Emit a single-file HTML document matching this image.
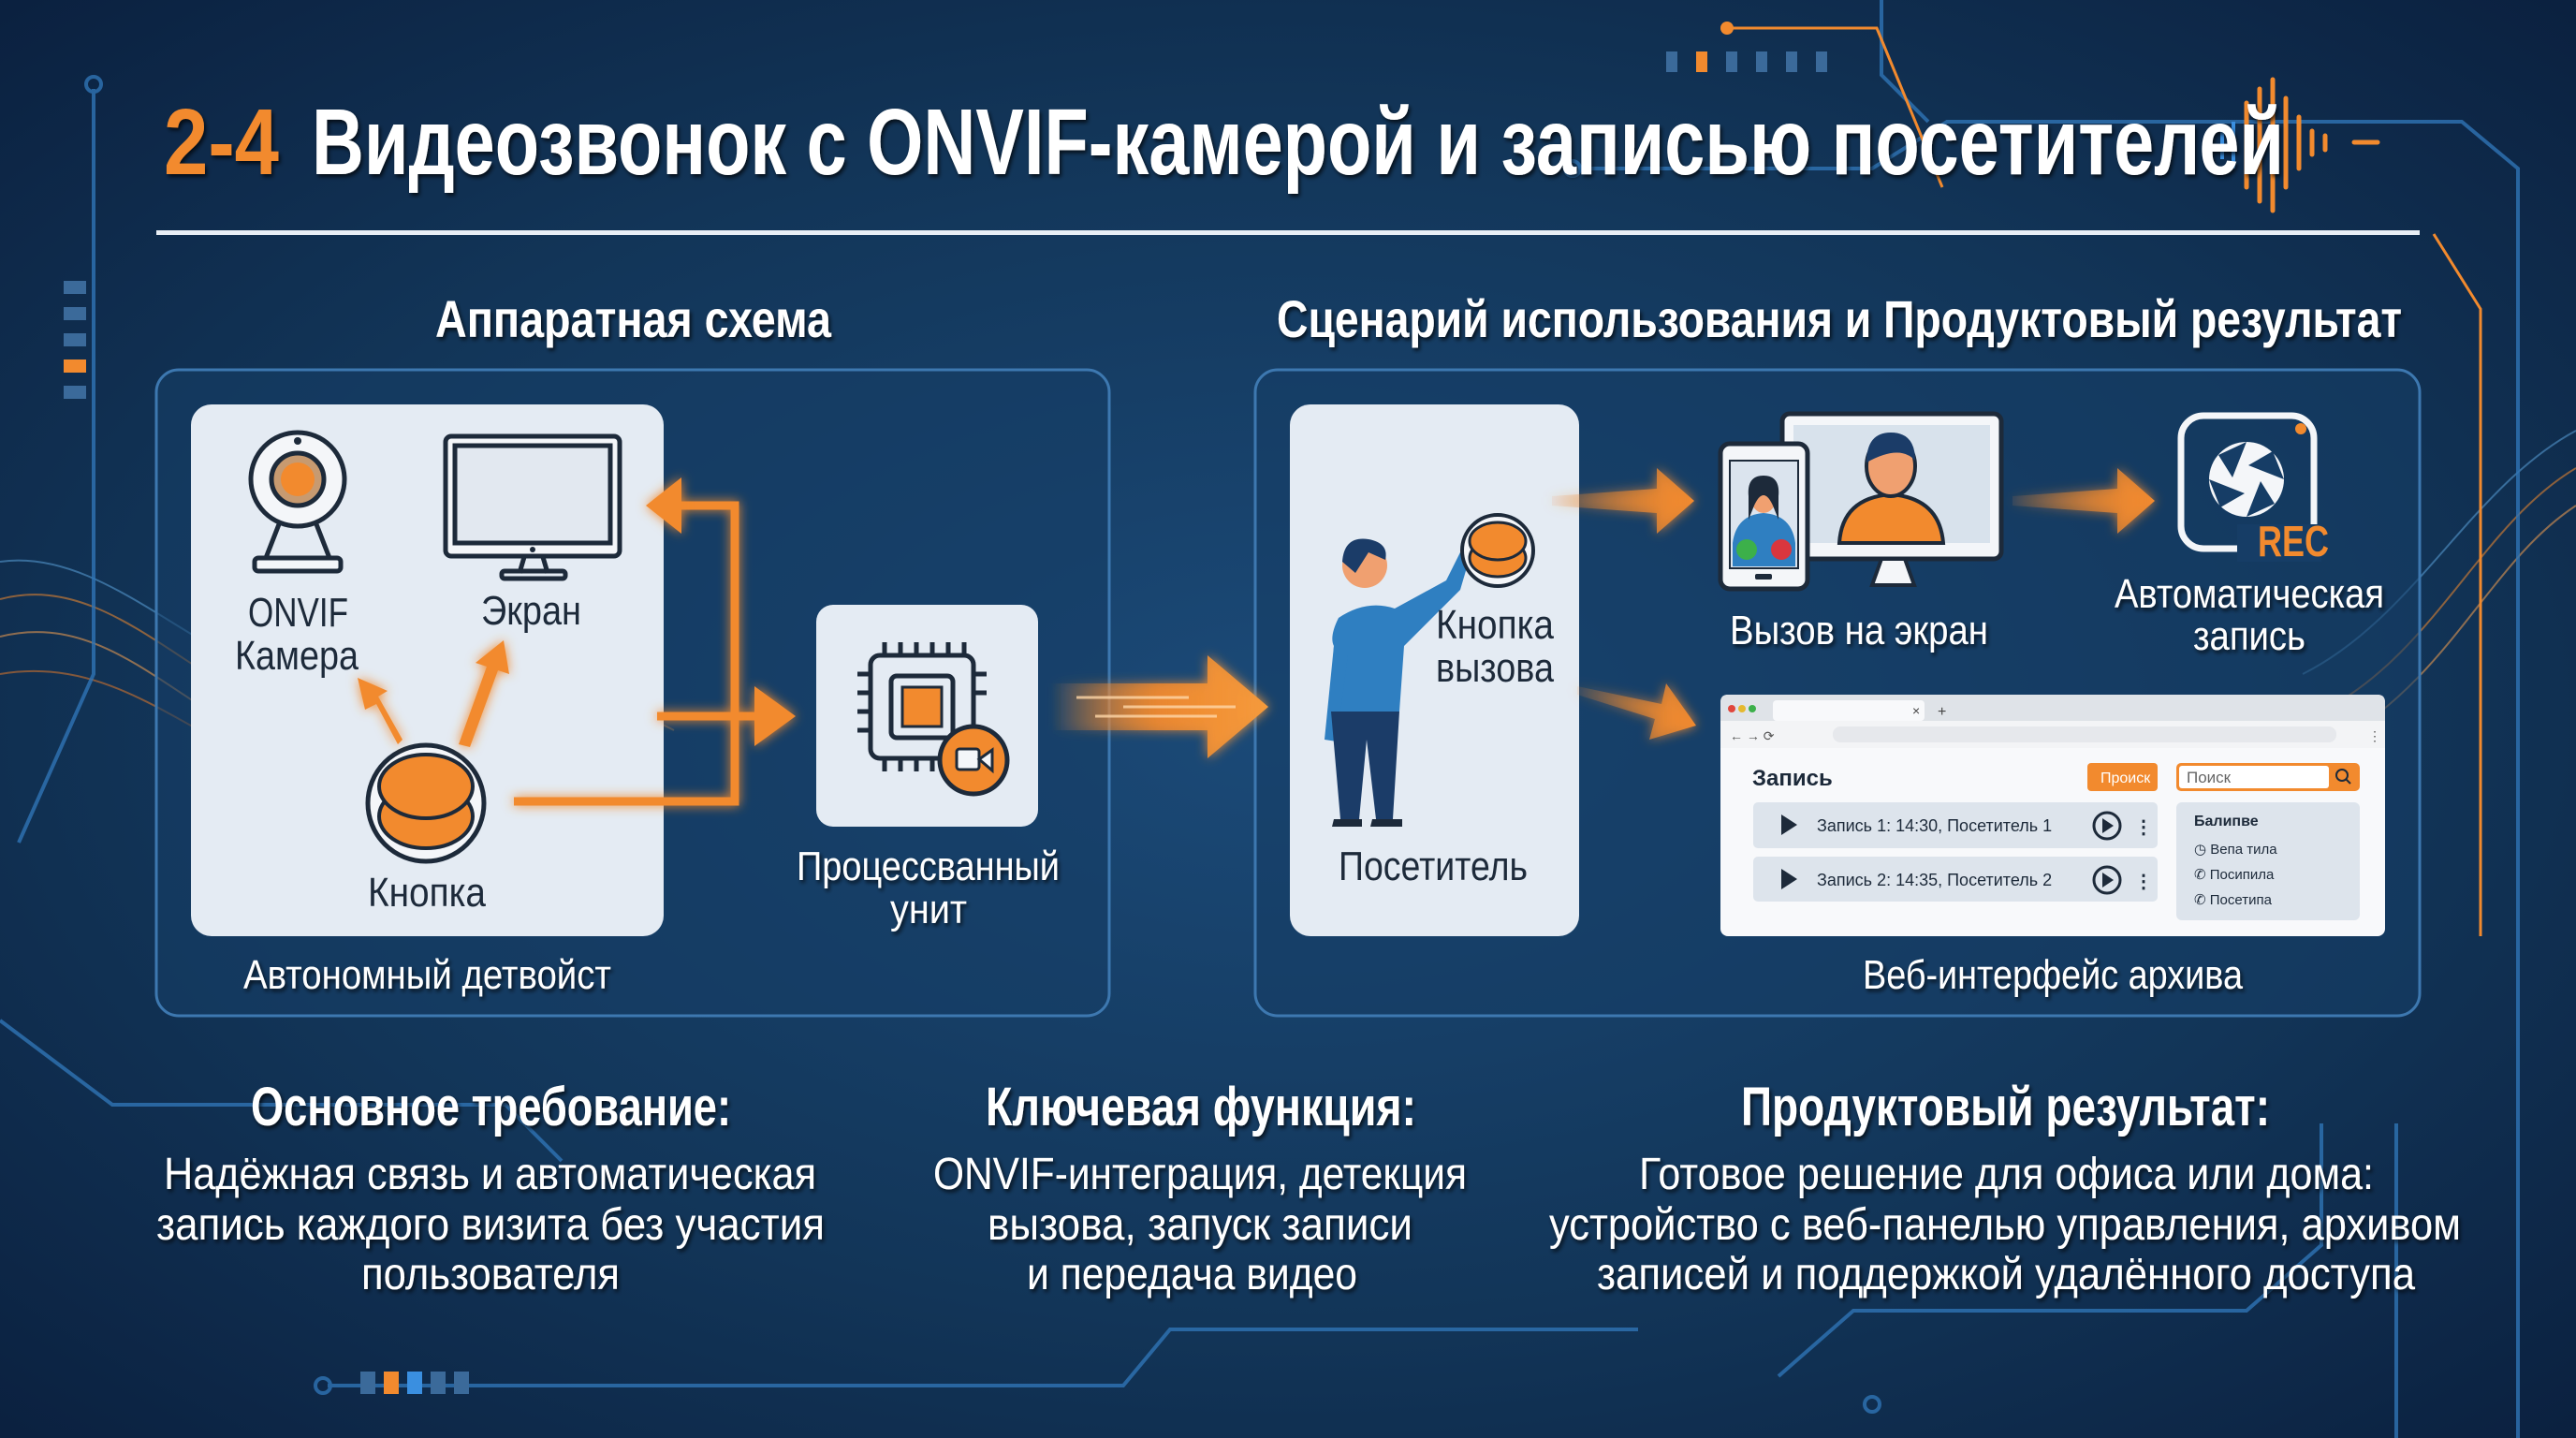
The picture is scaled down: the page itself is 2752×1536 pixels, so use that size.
<!DOCTYPE html>
<html><head><meta charset="utf-8">
<style>
html,body{margin:0;padding:0;background:#0e2744;}
svg{display:block}
text{font-family:"Liberation Sans Narrow","Liberation Sans",sans-serif;}
</style></head>
<body>
<svg width="2752" height="1536" viewBox="0 0 2752 1536" xmlns="http://www.w3.org/2000/svg">
<defs>
<radialGradient id="bg" cx="50%" cy="50%" r="70%">
<stop offset="0" stop-color="#1b4a78"/><stop offset="0.6" stop-color="#123558"/><stop offset="1" stop-color="#0b2140"/>
</radialGradient>
<linearGradient id="bigarrow" x1="0" x2="1"><stop offset="0" stop-color="#f28a2e" stop-opacity="0"/><stop offset="0.5" stop-color="#f28a2e" stop-opacity="0.8"/><stop offset="1" stop-color="#f59a3c"/></linearGradient>
<linearGradient id="fade" x1="0" x2="1"><stop offset="0" stop-color="#f28a2e" stop-opacity="0.1"/><stop offset="1" stop-color="#f28a2e"/></linearGradient>
<filter id="glow" x="-50%" y="-50%" width="200%" height="200%"><feGaussianBlur stdDeviation="6" result="b"/><feMerge><feMergeNode in="b"/><feMergeNode in="SourceGraphic"/></feMerge></filter>
<filter id="ts"><feDropShadow dx="2" dy="3" stdDeviation="2" flood-color="#000" flood-opacity="0.7"/></filter>
</defs>
<rect width="2752" height="1536" fill="url(#bg)"/>

<g fill="none" stroke-width="2" opacity="0.55">
<path d="M0 640 C150 600 250 820 420 760 S650 700 700 760" stroke="#f28a2e"/>
<path d="M0 680 C160 640 240 860 420 790 S640 740 720 780" stroke="#f5a050"/>
<path d="M0 720 C170 690 260 880 430 820" stroke="#e0782a"/>
<path d="M0 600 C140 580 260 780 420 730" stroke="#5aa0d8"/>
<path d="M2752 500 C2650 560 2600 700 2480 760 S2300 820 2250 860" stroke="#f28a2e"/>
<path d="M2752 540 C2660 600 2620 720 2500 790" stroke="#f5a050"/>
<path d="M2752 460 C2640 520 2580 660 2460 720" stroke="#5aa0d8"/>
</g>
<g fill="none" stroke="#2f74b5" stroke-width="4" opacity="0.8">
<path d="M100 95 V720 L20 900"/>
<circle cx="100" cy="90" r="8"/>
<path d="M1690 180 H2000 L2080 130 H2630 L2690 180 V1536"/>
<circle cx="1680" cy="180" r="8"/>
<path d="M2010 0 V80 L2060 130"/>
<path d="M0 1090 L120 1180 H540 L600 1240"/>
<path d="M350 1480 H1200 L1250 1420 H1750"/>
<circle cx="345" cy="1480" r="8"/>
<path d="M1900 1470 L1980 1400 H2400 L2480 1330 V1200"/>
<circle cx="2000" cy="1500" r="8"/>
<path d="M2560 1200 V1536"/>
</g>
<g fill="none" stroke="#f28a2e" stroke-width="3">
<path d="M1845 30 H2005 L2075 200"/>
<path d="M2600 250 L2650 330 V1000"/>
</g>
<circle cx="1845" cy="30" r="7" fill="#f28a2e"/>
<g fill="#3b6a9a"><rect x="1780" y="55" width="12" height="22"/><rect x="1812" y="55" width="12" height="22" fill="#f28a2e"/><rect x="1844" y="55" width="12" height="22"/><rect x="1876" y="55" width="12" height="22"/><rect x="1908" y="55" width="12" height="22"/><rect x="1940" y="55" width="12" height="22"/></g>
<g fill="#3b6a9a"><rect x="68" y="300" width="24" height="14"/><rect x="68" y="328" width="24" height="14"/><rect x="68" y="356" width="24" height="14"/><rect x="68" y="384" width="24" height="14" fill="#f28a2e"/><rect x="68" y="412" width="24" height="14"/></g>
<g fill="#3b6a9a"><rect x="385" y="1465" width="16" height="24"/><rect x="410" y="1465" width="16" height="24" fill="#f28a2e"/><rect x="435" y="1465" width="16" height="24" fill="#3a8fe0"/><rect x="460" y="1465" width="16" height="24"/><rect x="485" y="1465" width="16" height="24"/></g>
<g stroke="#f28a2e" stroke-width="5" stroke-linecap="round">
<line x1="2400" y1="110" x2="2400" y2="200"/><line x1="2414" y1="95" x2="2414" y2="215"/><line x1="2428" y1="85" x2="2428" y2="225"/><line x1="2442" y1="105" x2="2442" y2="200"/><line x1="2456" y1="125" x2="2456" y2="180"/><line x1="2470" y1="140" x2="2470" y2="165"/><line x1="2484" y1="145" x2="2484" y2="160"/><line x1="2515" y1="152" x2="2540" y2="152"/>
</g>
<g stroke="#3a8fe0" stroke-width="4"><line x1="2386" y1="130" x2="2386" y2="180"/><line x1="2374" y1="140" x2="2374" y2="170"/></g>

<g filter="url(#ts)">
<text x="175" y="186" font-size="100" font-weight="bold" fill="#f28a2e" textLength="123" lengthAdjust="spacingAndGlyphs">2-4</text>
<text x="333" y="186" font-size="100" font-weight="bold" fill="#ffffff" textLength="2107" lengthAdjust="spacingAndGlyphs">Видеозвонок с ONVIF-камерой и записью посетителей</text>
</g>
<rect x="167" y="246" width="2418" height="5" fill="#e8eef5"/>

<g filter="url(#ts)" fill="#fff" font-weight="bold" font-size="56">
<text x="465" y="360" textLength="423" lengthAdjust="spacingAndGlyphs">Аппаратная схема</text>
<text x="1364" y="360" textLength="1202" lengthAdjust="spacingAndGlyphs">Сценарий использования и Продуктовый результат</text>
</g>

<rect x="167" y="395" width="1018" height="690" rx="24" fill="#163d66" fill-opacity="0.6" stroke="#3d78b0" stroke-width="3"/>
<rect x="1341" y="395" width="1244" height="690" rx="24" fill="#163d66" fill-opacity="0.6" stroke="#3d78b0" stroke-width="3"/>

<rect x="204" y="432" width="505" height="568" rx="22" fill="#e4ebf3"/>
<!-- camera -->
<g fill="none" stroke="#1d2a3a" stroke-width="5">
<circle cx="318" cy="512" r="50" fill="#f4f6f9"/>
<circle cx="318" cy="512" r="28" fill="#c79a70"/>
<path d="M298 560 L284 596 M338 560 L352 596"/>
<rect x="272" y="596" width="92" height="14" rx="4" fill="#f4f6f9"/>
</g>
<circle cx="318" cy="512" r="18" fill="#f28a2e"/>
<circle cx="318" cy="471" r="4" fill="#1d2a3a"/>
<g fill="none" stroke="#1d2a3a" stroke-width="5">
<rect x="476" y="466" width="186" height="128" rx="6" fill="#f4f6f9"/>
<rect x="486" y="476" width="166" height="104" fill="#e2e8f0"/>
<path d="M560 595 L555 612 M580 595 L585 612"/>
<rect x="536" y="610" width="68" height="8" rx="3"/>
</g>
<circle cx="569" cy="587" r="3" fill="#1d2a3a"/>
<circle cx="455" cy="858" r="62" fill="#f4f6f9" stroke="#1d2a3a" stroke-width="5"/>
<ellipse cx="455" cy="872" rx="50" ry="34" fill="#f28a2e" stroke="#1d2a3a" stroke-width="4"/>
<ellipse cx="455" cy="840" rx="50" ry="34" fill="#f28a2e" stroke="#1d2a3a" stroke-width="4"/>
<g fill="#1d2a3a" font-size="44">
<text x="265" y="669" textLength="107" lengthAdjust="spacingAndGlyphs">ONVIF</text>
<text x="251" y="715" textLength="132" lengthAdjust="spacingAndGlyphs">Камера</text>
<text x="514" y="667" textLength="107" lengthAdjust="spacingAndGlyphs">Экран</text>
<text x="393" y="968" textLength="126" lengthAdjust="spacingAndGlyphs">Кнопка</text>
</g>
<g fill="#f28a2e" filter="url(#glow)">
<path d="M425 795 L402 752 L390 758 L382 724 L414 738 L404 744 L430 790Z"/>
<path d="M490 795 L520 712 L508 708 L538 684 L544 720 L532 716 L502 798Z"/>
</g>
<g fill="none" stroke="#f28a2e" stroke-width="9" filter="url(#glow)">
<path d="M549 856 H785 V540 H720"/>
<path d="M702 765 H810"/>
</g>
<path d="M690 540 L728 510 L728 570Z" fill="#f28a2e" filter="url(#glow)"/>
<path d="M850 765 L806 733 L806 797Z" fill="#f28a2e" filter="url(#glow)"/>

<rect x="872" y="646" width="237" height="237" rx="18" fill="#e4ebf3"/>
<g fill="none" stroke="#1d2a3a" stroke-width="5">
<rect x="930" y="700" width="110" height="110" rx="10"/>
<rect x="952" y="722" width="66" height="66" rx="6"/>
<path d="M945 700 v-14 M962 700 v-14 M979 700 v-14 M996 700 v-14 M1013 700 v-14 M1030 700 v-14"/>
<path d="M945 810 v14 M962 810 v14 M979 810 v14 M996 810 v14"/>
<path d="M930 720 h-14 M930 740 h-14 M930 760 h-14 M930 780 h-14 M1040 720 h14 M1040 740 h14"/>
</g>
<rect x="964" y="734" width="42" height="42" fill="#f28a2e" stroke="#1d2a3a" stroke-width="3"/>
<circle cx="1040" cy="812" r="36" fill="#f28a2e" stroke="#1d2a3a" stroke-width="5"/>
<rect x="1022" y="800" width="24" height="22" rx="3" fill="#f4f6f9" stroke="#1d2a3a" stroke-width="3"/>
<path d="M1046 811 L1060 801 V823Z" fill="#f4f6f9" stroke="#1d2a3a" stroke-width="3"/>
<g filter="url(#ts)" fill="#fff" font-size="44">
<text x="851" y="940" textLength="281" lengthAdjust="spacingAndGlyphs">Процессванный</text>
<text x="951" y="986" textLength="82" lengthAdjust="spacingAndGlyphs">унит</text>
<text x="260" y="1056" textLength="393" lengthAdjust="spacingAndGlyphs">Автономный детвойст</text>
</g>

<g filter="url(#glow)">
<path d="M1123 730 H1290 V700 L1355 755 L1290 810 V780 H1123Z" fill="url(#bigarrow)"/>
</g>
<g stroke="#ffd7a8" stroke-width="3" opacity="0.8"><line x1="1150" y1="745" x2="1270" y2="745"/><line x1="1170" y1="765" x2="1300" y2="765"/><line x1="1200" y1="755" x2="1320" y2="755"/></g>

<rect x="1378" y="432" width="309" height="568" rx="22" fill="#e4ebf3"/>
<g>
<path d="M1430 660 Q1460 640 1490 650 L1545 620 L1560 590 L1570 596 L1560 630 L1500 690 L1495 760 L1420 760 L1425 690 Q1420 680 1430 660Z" fill="#2f7fc1"/>
<path d="M1425 690 L1415 790 L1428 792 L1440 700Z" fill="#2f7fc1"/>
<path d="M1422 760 H1495 L1488 875 H1470 L1460 790 L1452 875 H1432Z" fill="#1b3c68"/>
<path d="M1425 875 h30 v8 h-32z M1466 875 h32 v8 h-34z" fill="#1d2a3a"/>
<circle cx="1458" cy="604" r="24" fill="#f0a070"/>
<path d="M1434 600 Q1436 572 1462 576 Q1484 580 1480 598 L1462 590 L1448 612Z" fill="#1b3c68"/>
</g>
<circle cx="1600" cy="588" r="38" fill="#f4f6f9" stroke="#1d2a3a" stroke-width="4"/>
<ellipse cx="1600" cy="596" rx="30" ry="20" fill="#f28a2e" stroke="#1d2a3a" stroke-width="3"/>
<ellipse cx="1600" cy="578" rx="30" ry="20" fill="#f28a2e" stroke="#1d2a3a" stroke-width="3"/>
<g fill="#1d2a3a" font-size="44">
<text x="1534" y="682" textLength="126" lengthAdjust="spacingAndGlyphs">Кнопка</text>
<text x="1534" y="728" textLength="126" lengthAdjust="spacingAndGlyphs">вызова</text>
<text x="1430" y="940" textLength="202" lengthAdjust="spacingAndGlyphs">Посетитель</text>
</g>

<g filter="url(#glow)">
<path d="M1658 530 L1770 522 V500 L1810 535 L1770 570 V548 L1658 540Z" fill="url(#fade)"/>
<path d="M2150 530 L2262 522 V500 L2302 535 L2262 570 V548 L2150 540Z" fill="url(#fade)"/>
<path d="M1685 733 L1775 752 L1780 730 L1812 775 L1762 790 L1768 768 L1685 742Z" fill="url(#fade)"/>
</g>

<g>
<rect x="1904" y="442" width="234" height="155" rx="8" fill="#f4f6f9" stroke="#1d2a3a" stroke-width="5"/>
<rect x="1916" y="454" width="210" height="126" fill="#d8e2ec"/>
<path d="M2010 597 L2000 625 H2045 L2035 597Z" fill="#f4f6f9" stroke="#1d2a3a" stroke-width="4"/>
<path d="M1965 580 Q1968 532 2020 528 Q2072 532 2076 580Z" fill="#f28a2e" stroke="#1d2a3a" stroke-width="4"/>
<ellipse cx="2020" cy="498" rx="26" ry="32" fill="#f0a070" stroke="#1d2a3a" stroke-width="4"/>
<path d="M1994 494 Q1994 462 2020 462 Q2046 462 2046 492 Q2030 474 1994 494Z" fill="#1b3c68"/>
<rect x="1838" y="474" width="93" height="155" rx="10" fill="#f4f6f9" stroke="#1d2a3a" stroke-width="5"/>
<rect x="1848" y="492" width="73" height="115" fill="#dbe4ee" stroke="#1d2a3a" stroke-width="2"/>
<path d="M1851 580 Q1855 550 1884 548 Q1914 550 1918 580 V605 H1851Z" fill="#2f7fc1"/>
<ellipse cx="1884" cy="530" rx="14" ry="18" fill="#f0a070"/>
<path d="M1868 530 Q1866 508 1884 508 Q1902 508 1900 530 L1900 555 L1894 540 Q1884 518 1874 540 L1868 555Z" fill="#1d2a3a"/>
<circle cx="1866" cy="587" r="11" fill="#3cb04a"/><circle cx="1903" cy="587" r="11" fill="#d9363e"/>
<rect x="1875" y="613" width="18" height="6" rx="2" fill="#1d2a3a"/>
</g>
<g>
<rect x="2330" y="444" width="142" height="142" rx="24" fill="none" stroke="#f4f6f9" stroke-width="7"/>
<rect x="2390" y="560" width="90" height="40" fill="#163d66"/>
<circle cx="2400" cy="512" r="40" fill="#f4f6f9"/>
<g fill="#163d66"><path d="M2400 472 L2385 510 L2370 486Z"/><path d="M2440 512 L2402 497 L2428 482Z"/><path d="M2400 552 L2415 514 L2430 538Z"/><path d="M2360 512 L2398 527 L2372 542Z"/></g>
<circle cx="2458" cy="458" r="6" fill="#f28a2e"/>
<text x="2412" y="594" font-size="46" font-weight="bold" fill="#f28a2e" textLength="76" lengthAdjust="spacingAndGlyphs">REC</text>
</g>
<g filter="url(#ts)" fill="#fff" font-size="44">
<text x="1848" y="688" textLength="276" lengthAdjust="spacingAndGlyphs">Вызов на экран</text>
<text x="2259" y="649" textLength="288" lengthAdjust="spacingAndGlyphs">Автоматическая</text>
<text x="2343" y="694" textLength="120" lengthAdjust="spacingAndGlyphs">запись</text>
<text x="1990" y="1056" textLength="406" lengthAdjust="spacingAndGlyphs">Веб-интерфейс архива</text>
</g>

<g>
<rect x="1838" y="742" width="710" height="258" rx="8" fill="#f8f9fb"/>
<path d="M1838 750 Q1838 742 1846 742 H2540 Q2548 742 2548 750 V799 H1838Z" fill="#dfe3e8"/>
<rect x="1894" y="748" width="162" height="22" rx="4" fill="#f8f9fb"/>
<rect x="1838" y="770" width="710" height="29" fill="#f3f4f6"/>
<rect x="1958" y="776" width="538" height="17" rx="8" fill="#e6e8ec"/>
<circle cx="1850" cy="757" r="4" fill="#e0463c"/><circle cx="1861" cy="757" r="4" fill="#e5b92f"/><circle cx="1872" cy="757" r="4" fill="#3cb04a"/>
<text x="2043" y="764" font-size="14" fill="#444">×</text><text x="2070" y="765" font-size="16" fill="#444">+</text>
<text x="1848" y="791" font-size="14" fill="#555">← → ⟳</text>
<text x="2530" y="791" font-size="14" fill="#555">⋮</text>
<text x="1872" y="839" font-size="24" font-weight="bold" fill="#1d2a3a">Запись</text>
<rect x="2230" y="815" width="75" height="30" rx="4" fill="#f28a2e"/>
<text x="2244" y="836" font-size="16" fill="#fff">Происк</text>
<rect x="2325" y="815" width="196" height="30" rx="5" fill="#f28a2e"/>
<rect x="2328" y="818" width="160" height="24" rx="3" fill="#fff"/>
<text x="2336" y="836" font-size="17" fill="#666">Поиск</text>
<circle cx="2502" cy="828" r="6" fill="none" stroke="#1d2a3a" stroke-width="2"/><line x1="2506" y1="832" x2="2511" y2="837" stroke="#1d2a3a" stroke-width="2"/>
<rect x="1873" y="857" width="432" height="49" rx="5" fill="#dde4ec"/>
<rect x="1873" y="915" width="432" height="48" rx="5" fill="#dde4ec"/>
<path d="M1903 870 L1920 881 L1903 892Z" fill="#1d2a3a"/><path d="M1903 928 L1920 939 L1903 950Z" fill="#1d2a3a"/>
<text x="1941" y="888" font-size="18" fill="#1d2a3a">Запись 1: 14:30, Посетитель 1</text>
<text x="1941" y="946" font-size="18" fill="#1d2a3a">Запись 2: 14:35, Посетитель 2</text>
<circle cx="2251" cy="882" r="14" fill="none" stroke="#1d2a3a" stroke-width="3"/><path d="M2246 874 L2258 882 L2246 890Z" fill="#1d2a3a"/>
<circle cx="2251" cy="940" r="14" fill="none" stroke="#1d2a3a" stroke-width="3"/><path d="M2246 932 L2258 940 L2246 948Z" fill="#1d2a3a"/>
<text x="2280" y="890" font-size="20" font-weight="bold" fill="#1d2a3a">⋮</text><text x="2280" y="948" font-size="20" font-weight="bold" fill="#1d2a3a">⋮</text>
<rect x="2325" y="857" width="196" height="126" rx="6" fill="#dde4ec"/>
<text x="2344" y="882" font-size="16" font-weight="bold" fill="#1d2a3a">Балипве</text>
<text x="2344" y="912" font-size="15" fill="#1d2a3a">◷  Вепа тила</text>
<text x="2344" y="939" font-size="15" fill="#1d2a3a">✆  Посипила</text>
<text x="2344" y="966" font-size="15" fill="#1d2a3a">✆  Посетипа</text>
</g>

<g filter="url(#ts)" fill="#fff">
<g font-size="58" font-weight="bold">
<text x="268" y="1202" textLength="513" lengthAdjust="spacingAndGlyphs">Основное требование:</text>
<text x="1053" y="1202" textLength="460" lengthAdjust="spacingAndGlyphs">Ключевая функция:</text>
<text x="1860" y="1202" textLength="565" lengthAdjust="spacingAndGlyphs">Продуктовый результат:</text>
</g>
<g font-size="48">
<text x="175" y="1270" textLength="697" lengthAdjust="spacingAndGlyphs">Надёжная связь и автоматическая</text>
<text x="167" y="1324" textLength="714" lengthAdjust="spacingAndGlyphs">запись каждого визита без участия</text>
<text x="386" y="1377" textLength="276" lengthAdjust="spacingAndGlyphs">пользователя</text>
<text x="997" y="1270" textLength="570" lengthAdjust="spacingAndGlyphs">ONVIF-интеграция, детекция</text>
<text x="1055" y="1324" textLength="454" lengthAdjust="spacingAndGlyphs">вызова, запуск записи</text>
<text x="1097" y="1377" textLength="353" lengthAdjust="spacingAndGlyphs">и передача видео</text>
<text x="1751" y="1270" textLength="785" lengthAdjust="spacingAndGlyphs">Готовое решение для офиса или дома:</text>
<text x="1655" y="1324" textLength="974" lengthAdjust="spacingAndGlyphs">устройство с веб-панелью управления, архивом</text>
<text x="1706" y="1377" textLength="874" lengthAdjust="spacingAndGlyphs">записей и поддержкой удалённого доступа</text>
</g>
</g>
</svg>
</body></html>
